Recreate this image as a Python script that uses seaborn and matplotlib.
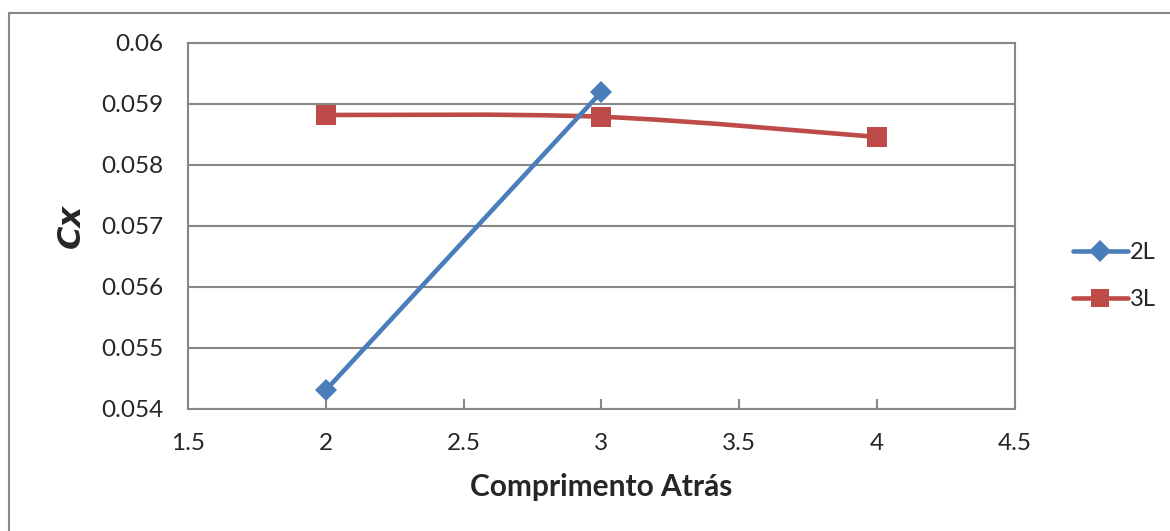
import numpy as np
import pandas as pd
import seaborn as sns
import matplotlib
matplotlib.use("Agg")
import matplotlib.pyplot as plt
from matplotlib.path import Path
from matplotlib.patches import PathPatch
from matplotlib.lines import Line2D

# Drag coefficient vs rear length
x_2l = [2, 3]
cx_2l = [0.05431, 0.05920]
x_3l = [2, 3, 4]
cx_3l = [0.05882, 0.05879, 0.05846]
series_names = ["2L", "3L"]
x_ticks = [1.5, 2, 2.5, 3, 3.5, 4, 4.5]
y_ticks = [0.054, 0.055, 0.056, 0.057, 0.058, 0.059, 0.06]

BLUE = "#4A7EBB"
RED = "#BE4B48"
GRID = "#878787"

sns.set_theme(style="white")
plt.rcParams["font.family"] = ["Lato", "DejaVu Sans"]

fig = plt.figure(figsize=(11.7, 5.31), dpi=100)
ax = fig.add_axes([188 / 1170, 1 - 409 / 531, (1015 - 188) / 1170, (409 - 43) / 531])

df2 = pd.DataFrame({"x": x_2l, "cx": cx_2l})
df3 = pd.DataFrame({"x": x_3l, "cx": cx_3l})

# 2L: straight segments with diamond markers
sns.lineplot(data=df2, x="x", y="cx", ax=ax, color=BLUE, linewidth=3.3,
             marker="D", markersize=11, markeredgewidth=0, zorder=4)


def smooth_path(xs, ys, k=1 / 6):
    """Cubic Bezier path through the points (Excel-style smoothed line)."""
    pts = np.column_stack([xs, ys]).astype(float)
    n = len(pts)
    verts = [pts[0]]
    codes = [Path.MOVETO]
    for i in range(n - 1):
        p_prev = pts[i - 1] if i > 0 else pts[i]
        p0 = pts[i]
        p1 = pts[i + 1]
        p_next = pts[i + 2] if i + 2 < n else pts[i + 1]
        c1 = p0 + (p1 - p_prev) * k
        c2 = p1 - (p_next - p0) * k
        verts += [c1, c2, p1]
        codes += [Path.CURVE4] * 3
    return Path(verts, codes)


# 3L: smoothed line with square markers
ax.add_patch(PathPatch(smooth_path(x_3l, cx_3l), facecolor="none", edgecolor=RED,
                       linewidth=3.3, capstyle="round", zorder=3))
sns.scatterplot(data=df3, x="x", y="cx", ax=ax, color=RED, marker="s", s=195,
                linewidth=0, zorder=5)

ax.set_xlim(1.5, 4.5)
ax.set_ylim(0.054, 0.06)
ax.set_xticks(x_ticks)
ax.set_xticklabels([f"{v:g}" for v in x_ticks])
ax.set_yticks(y_ticks)
ax.set_yticklabels([f"{v:g}" for v in y_ticks])
ax.tick_params(axis="x", direction="in", length=7, width=1.5, color=GRID,
               labelsize=17.5, pad=17, bottom=True)
ax.tick_params(axis="y", length=0, labelsize=17.5, pad=18)
ax.yaxis.grid(True, color=GRID, linewidth=1.5)
ax.xaxis.grid(False)
for side in ["left", "right", "top", "bottom"]:
    ax.spines[side].set_visible(True)
    ax.spines[side].set_color(GRID)
    ax.spines[side].set_linewidth(1.5)

ax.set_xlabel("Comprimento Atrás", fontsize=21.5, fontweight="bold", labelpad=14)
ax.set_ylabel("Cx", fontsize=23, fontweight="bold", fontstyle="italic",
              family=["DejaVu Sans"], labelpad=10)

handles = [
    Line2D([], [], color=BLUE, linewidth=3.3, marker="D", markersize=11, markeredgewidth=0),
    Line2D([], [], color=RED, linewidth=3.3, marker="s", markersize=13.5, markeredgewidth=0),
]
fig.legend(handles, series_names, loc="center left", bbox_to_anchor=(1052 / 1170, 1 - 276 / 531),
           frameon=False, fontsize=17, handlelength=2.3, handletextpad=0.1, labelspacing=1.1)

# Chart area border (top and left edges)
fig.add_artist(Line2D([9 / 1170, 9 / 1170], [0, 1 - 13 / 531], transform=fig.transFigure,
                      color=GRID, linewidth=1.5))
fig.add_artist(Line2D([9 / 1170, 1], [1 - 13 / 531, 1 - 13 / 531], transform=fig.transFigure,
                      color=GRID, linewidth=1.5))

fig.savefig("out.png", dpi=100, facecolor="white")
